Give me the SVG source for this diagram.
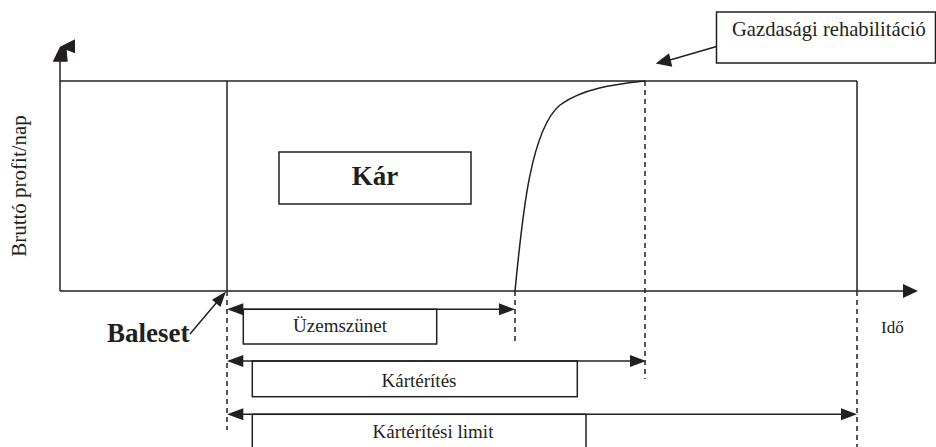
<svg xmlns="http://www.w3.org/2000/svg" width="936" height="447" viewBox="0 0 936 447">
<style>
.ln{stroke:#231f20;stroke-width:1.5;fill:none}
.bx{stroke:#231f20;stroke-width:1.5;fill:#fff}
.ds{stroke:#231f20;stroke-width:1.5;fill:none;stroke-dasharray:5 4}
.ah{fill:#231f20;stroke:none}
.t{font-family:"Liberation Serif","Times New Roman",serif;fill:#231f20}
.b{font-weight:bold}
</style>
<rect width="936" height="447" fill="#fff"/>
<g id="axes">
<line class="ln" x1="60" y1="58" x2="60" y2="291"/>
<polygon class="ah" points="52.7,61.7 60,46.7 75,39.3 75,53.3 66.7,50 67.7,61.7"/>
<line class="ln" x1="60" y1="291" x2="904" y2="291"/>
<polygon class="ah" points="918,291 903,284 903,298"/>
<text class="t" font-size="21" text-anchor="middle" transform="translate(26,186) rotate(-90)">Bruttó profit/nap</text>
<text class="t" font-size="17" x="881" y="333">Idő</text>
</g>
<g id="profit-area">
<line class="ln" x1="60" y1="81" x2="857" y2="81"/>
<line class="ln" x1="857" y1="81" x2="857" y2="291"/>
<line class="ln" x1="227" y1="81" x2="227" y2="291"/>
<path class="ln" d="M515,291 C522,220 530,130 560,105 C585,87 620,84 645,81"/>
</g>
<g id="kar">
<rect class="bx" x="279" y="152" width="192" height="52"/>
<text class="t b" font-size="27" x="375" y="185" text-anchor="middle">Kár</text>
</g>
<g id="rehab">
<rect class="bx" x="716.5" y="12" width="219" height="51"/>
<text class="t" font-size="20.6" x="732" y="36">Gazdasági rehabilitáció</text>
</g>
<g id="baleset">
<text class="t b" font-size="27" x="107" y="342">Baleset</text>
</g>
<g id="connectors">
<line class="ds" x1="227" y1="291" x2="227" y2="430"/>
<line class="ds" x1="515" y1="291" x2="515" y2="345"/>
<line class="ds" x1="645" y1="81" x2="645" y2="379"/>
<line class="ds" x1="857" y1="291" x2="857" y2="447"/>
<line class="ln" x1="190" y1="334" x2="217" y2="302"/>
<polygon class="ah" points="226,291.5 220.4,307 212,299.8"/>
<line class="ln" x1="716.5" y1="46.5" x2="670" y2="60"/>
<polygon class="ah" points="655.7,63.5 669,53.3 672.3,66.7"/>
</g>
<g id="uzemszunet">
<rect class="bx" x="243.3" y="309.3" width="193.4" height="34.7"/>
<line class="ln" x1="240" y1="309.3" x2="500" y2="309.3"/>
<polygon class="ah" points="227,309.3 243.3,303.3 243.3,315.3"/>
<polygon class="ah" points="515,309.3 499,303.3 499,315.3"/>
<text class="t" font-size="19" x="340" y="332" text-anchor="middle">Üzemszünet</text>
</g>
<g id="karterites">
<rect class="bx" x="252.3" y="361" width="325" height="35.7"/>
<line class="ln" x1="240" y1="361" x2="630" y2="361"/>
<polygon class="ah" points="227,361 243.3,355 243.3,367"/>
<polygon class="ah" points="646,361 630,355 630,367"/>
<text class="t" font-size="19" x="419" y="387" text-anchor="middle">Kártérítés</text>
</g>
<g id="karteritesi-limit">
<rect class="bx" x="252.3" y="414.3" width="333.7" height="40"/>
<line class="ln" x1="240" y1="414.3" x2="842" y2="414.3"/>
<polygon class="ah" points="227,414.3 243.3,408.3 243.3,420.3"/>
<polygon class="ah" points="857,414.3 841,408.3 841,420.3"/>
<text class="t" font-size="19" x="433" y="438" text-anchor="middle">Kártérítési limit</text>
</g>
</svg>
